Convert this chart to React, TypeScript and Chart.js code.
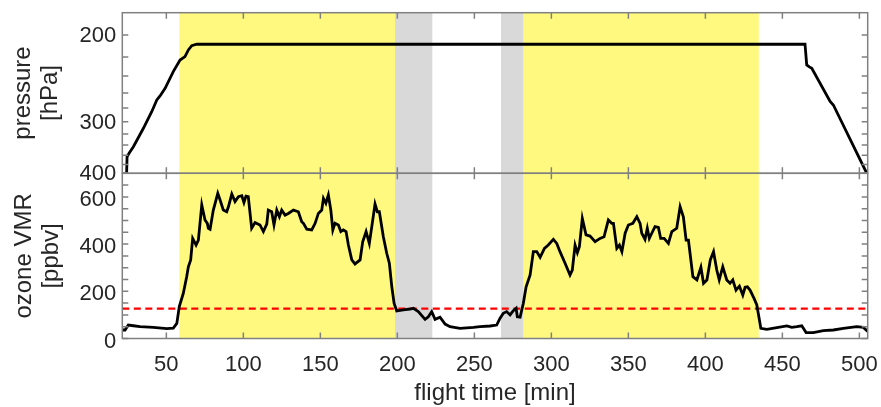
import React, { useEffect, useRef } from 'react';
import { Chart, registerables } from 'chart.js';

Chart.register(...registerables);

// ---------- data ----------
const X_MIN = 21.4;
const X_MAX = 505.4;
const xTicks = [50, 100, 150, 200, 250, 300, 350, 400, 450, 500];

const pressureTicks = [200, 220, 240, 260, 280, 300, 320, 340, 360, 380, 400];
const pressureLabels = [200, 300, 400];
const pressureTop = 182.4;
const pressureBottom = 400;

const ozoneTicks = [0, 50, 100, 150, 200, 250, 300, 350, 400, 450, 500, 550, 600, 650, 700];
const ozoneLabels = [0, 200, 400, 600];
const ozoneMax = 700;
const ozoneThreshold = 127;

const yellowBands: [number, number][] = [[58.4, 198.5], [281.8, 434.7]];
const grayBands: [number, number][] = [[198.5, 222.7], [267.3, 281.8]];

const pressureTime = [24.2, 24.5, 26.0, 28.6, 35.1, 40.5, 43.8, 45.9, 49.2, 54.5, 58.9, 62.1, 64.3, 66.5, 69.7,
  464.7, 465.8, 467.5, 469.1, 481.0, 483.1, 504.8, 505.4];
const pressureHPa = [400, 363, 354.9, 343.2, 310.6, 285.1, 268.9, 263.7, 254.1, 235.1, 223.0, 219.7, 213.3, 209.4, 208.1,
  208.1, 228.0, 230.0, 231.5, 271.0, 275.7, 400, 404];

const ozoneTime = [21.4, 23.2, 25.3, 28.6, 32.9, 41.6, 50.3, 54.5, 56.8, 58.4, 61.0, 63.2, 64.3, 65.8, 67.1, 69.3, 70.8,
  73.0, 75.1, 76.6, 77.3, 78.4, 80.5, 83.4, 84.9, 87.0, 89.2, 90.3, 92.5, 94.6, 96.8, 99.0, 100.4, 101.7, 103.2,
  105.4, 107.6, 110.8, 113.0, 115.2, 116.2, 118.4, 119.9, 121.7, 123.4, 124.9, 127.1, 129.2, 132.5, 135.7, 137.9,
  139.0, 141.2, 144.4, 146.6, 148.7, 150.9, 152.0, 153.6, 155.2, 156.8, 158.1, 159.5, 161.7, 163.3, 164.9, 166.7,
  168.2, 170.4, 172.5, 175.8, 177.5, 179.7, 181.8, 183.4, 185.5, 187.0, 188.3, 190.9, 193.1, 194.8, 196.4, 197.9,
  199.6, 203.9, 208.2, 210.4, 213.6, 218.0, 220.1, 222.3, 224.5, 227.7, 231.0, 234.2, 240.7, 249.4, 253.7, 260.2,
  264.5, 266.7, 268.8, 271.0, 273.2, 275.3, 277.1, 277.9, 279.7, 281.8, 283.6, 286.2, 288.3, 290.5, 292.7, 295.5,
  298.0, 301.3, 303.5, 305.6, 308.9, 312.1, 313.6, 315.4, 316.9, 318.2, 320.1, 322.5, 325.1, 328.4, 331.6, 334.2,
  337.0, 339.2, 340.3, 342.5, 344.2, 345.8, 347.9, 350.0, 352.9, 355.5, 357.6, 358.7, 360.8, 362.3, 363.6, 365.2,
  367.3, 369.5, 371.0, 373.2, 376.0, 378.2, 381.4, 383.6, 385.7, 387.5, 389.0, 391.9, 394.5, 397.1, 398.8, 401.0,
  403.2, 405.3, 407.4, 409.0, 411.3, 413.9, 416.0, 417.8, 419.9, 422.1, 424.3, 425.8, 427.3, 429.0, 431.6, 433.4,
  435.1, 436.0, 439.9, 446.4, 452.9, 456.1, 459.4, 462.6, 465.4, 470.1, 476.6, 483.1, 489.6, 498.3, 502.6, 505.4];
const ozoneVMR = [36, 36, 57, 54, 50, 47, 42, 44, 64, 135, 191, 262, 304, 333, 424, 396, 417,
  566, 502, 488, 467, 463, 544, 615, 587, 544, 537, 558, 612, 580, 601, 605, 576, 603, 601,
  467, 491, 481, 453, 485, 544, 537, 481, 544, 516, 544, 523, 530, 544, 537, 495,
  488, 463, 460, 488, 530, 544, 594, 573, 608, 544, 460, 488, 481, 453, 460, 453,
  396, 333, 316, 333, 410, 453, 403, 474, 570, 537, 537, 431, 361, 319, 219, 149,
  117, 121, 125, 128, 114, 81, 92, 114, 81, 90, 61, 50, 43, 47, 50, 53,
  57, 86, 107, 114, 100, 118, 128, 92, 90, 149, 219, 269, 368, 368, 344, 382,
  396, 420, 403, 368, 319, 269, 290, 396, 364, 389, 509, 439, 434, 410, 424, 431,
  502, 488, 488, 382, 396, 368, 446, 481, 488, 516, 488, 446, 420, 467, 424, 446,
  474, 471, 424, 424, 403, 453, 467, 558, 516, 417, 417, 262, 248, 302, 234, 248,
  333, 368, 290, 248, 304, 248, 234, 248, 205, 222, 184, 217, 219, 205, 170, 142,
  78, 43, 39, 46, 53, 47, 50, 54, 25, 25, 33, 36, 43, 50, 47, 30];

// ---------- helpers ----------
const FONT = '"Liberation Sans", Arial, Helvetica, sans-serif';
const TEXT = '#262626';
const FRAME = '#808080';
const LEFT_W = 122.3;
const RIGHT_PAD = 881 - 867.7;
const TOP_Y = 12.7;
const MID_Y = 173.3;
const BOT_Y = 338.5;
const H = 407;

const pv = (p: number) => 1 / Math.sqrt(p);

const noPad = (s: any) => {
  s.paddingTop = 0;
  s.paddingBottom = 0;
  s.paddingLeft = 0;
  s.paddingRight = 0;
};

const bandsPlugin = {
  id: 'bands',
  beforeDatasetsDraw(chart: any) {
    const { ctx, chartArea, scales } = chart;
    const x = scales.x;
    ctx.save();
    ctx.beginPath();
    ctx.rect(chartArea.left, chartArea.top, chartArea.right - chartArea.left, chartArea.bottom - chartArea.top);
    ctx.clip();
    const draw = (bands: [number, number][], color: string) => {
      ctx.fillStyle = color;
      for (const [a, b] of bands) {
        const x0 = x.getPixelForValue(a);
        const x1 = x.getPixelForValue(b);
        ctx.fillRect(x0, chartArea.top, x1 - x0, chartArea.bottom - chartArea.top);
      }
    };
    draw(yellowBands, '#FFF980');
    draw(grayBands, '#D9D9D9');
    ctx.restore();
  },
};

const makeFrame = (yTickValues: number[]) => ({
  id: 'frame',
  afterDatasetsDraw(chart: any) {
    const { ctx, chartArea, scales } = chart;
    const { left, right, top, bottom } = chartArea;
    const len = 6;
    ctx.save();
    ctx.strokeStyle = FRAME;
    ctx.lineWidth = 1.5;
    ctx.beginPath();
    for (const v of xTicks) {
      const px = scales.x.getPixelForValue(v);
      ctx.moveTo(px, top);
      ctx.lineTo(px, top + len);
      ctx.moveTo(px, bottom);
      ctx.lineTo(px, bottom - len);
    }
    for (const v of yTickValues) {
      const py = scales.y.getPixelForValue(v);
      ctx.moveTo(left, py);
      ctx.lineTo(left + len, py);
      ctx.moveTo(right, py);
      ctx.lineTo(right - len, py);
    }
    ctx.stroke();
    ctx.strokeRect(left, top, right - left, bottom - top);
    ctx.restore();
  },
});

function topConfig(): any {
  return {
    type: 'line',
    data: {
      datasets: [{
        data: pressureTime.map((t, i) => ({ x: t, y: pv(pressureHPa[i]) })),
        borderColor: '#000',
        borderWidth: 2.8,
        pointRadius: 0,
        tension: 0,
        fill: false,
      }],
    },
    options: {
      animation: false,
      responsive: false,
      maintainAspectRatio: false,
      events: [],
      layout: { padding: { left: 0, top: TOP_Y, right: RIGHT_PAD, bottom: H - MID_Y } },
      plugins: { legend: { display: false }, tooltip: { enabled: false } },
      scales: {
        x: { type: 'linear', min: X_MIN, max: X_MAX, display: false },
        y: {
          type: 'linear',
          min: pv(pressureBottom),
          max: pv(pressureTop),
          afterBuildTicks: (s: any) => { s.ticks = pressureTicks.map((p) => ({ value: pv(p) })); },
          afterFit: (s: any) => { s.width = LEFT_W; noPad(s); },
          grid: { display: false, drawTicks: false },
          border: { display: false },
          ticks: {
            autoSkip: false,
            padding: 6,
            labelOffset: 1,
            color: TEXT,
            font: { family: FONT, size: 22 },
            callback: (v: number) => {
              const p = Math.round(1 / (v * v));
              return pressureLabels.includes(p) ? String(p) : '';
            },
          },
          title: {
            display: true,
            text: ['pressure', '[hPa]'],
            color: TEXT,
            font: { family: FONT, size: 24, lineHeight: 1.125 },
            padding: { top: 9.5, bottom: 0 },
          },
        },
      },
    },
    plugins: [bandsPlugin, makeFrame(pressureTicks.map(pv))],
  };
}

function bottomConfig(): any {
  return {
    type: 'line',
    data: {
      datasets: [
        {
          data: ozoneTime.map((t, i) => ({ x: t, y: ozoneVMR[i] })),
          borderColor: '#000',
          borderWidth: 2.8,
          pointRadius: 0,
          tension: 0,
          fill: false,
        },
        {
          data: [{ x: X_MIN, y: ozoneThreshold }, { x: X_MAX, y: ozoneThreshold }],
          borderColor: '#FF0000',
          borderWidth: 2.2,
          borderDash: [7, 4.5],
          pointRadius: 0,
          fill: false,
        },
      ],
    },
    options: {
      animation: false,
      responsive: false,
      maintainAspectRatio: false,
      events: [],
      layout: { padding: { left: 0, top: MID_Y, right: RIGHT_PAD, bottom: 0 } },
      plugins: { legend: { display: false }, tooltip: { enabled: false } },
      scales: {
        x: {
          type: 'linear',
          min: X_MIN,
          max: X_MAX,
          afterBuildTicks: (s: any) => { s.ticks = xTicks.map((v) => ({ value: v })); },
          afterFit: (s: any) => { s.height = H - BOT_Y; noPad(s); },
          grid: { display: false, drawTicks: false },
          border: { display: false },
          ticks: {
            autoSkip: false,
            maxRotation: 0,
            minRotation: 0,
            padding: 13,
            color: TEXT,
            font: { family: FONT, size: 22 },
            callback: (v: number) => String(v),
          },
          title: {
            display: true,
            text: 'flight time [min]',
            color: TEXT,
            font: { family: FONT, size: 24, lineHeight: 28 / 24 },
            padding: { top: 0, bottom: 0 },
          },
        },
        y: {
          type: 'linear',
          min: 0,
          max: ozoneMax,
          afterBuildTicks: (s: any) => { s.ticks = ozoneTicks.map((v) => ({ value: v })); },
          afterFit: (s: any) => { s.width = LEFT_W; noPad(s); },
          grid: { display: false, drawTicks: false },
          border: { display: false },
          ticks: {
            autoSkip: false,
            padding: 6,
            labelOffset: 3,
            color: TEXT,
            font: { family: FONT, size: 22 },
            callback: (v: number) => (ozoneLabels.includes(v) ? String(v) : ''),
          },
          title: {
            display: true,
            text: ['ozone VMR', '[ppbv]'],
            color: TEXT,
            font: { family: FONT, size: 24, lineHeight: 1.125 },
            padding: { top: 11, bottom: 0 },
          },
        },
      },
    },
    plugins: [bandsPlugin, makeFrame(ozoneTicks)],
  };
}

export default function App() {
  const topRef = useRef<HTMLCanvasElement>(null);
  const botRef = useRef<HTMLCanvasElement>(null);

  useEffect(() => {
    const c1 = new Chart(topRef.current as HTMLCanvasElement, topConfig());
    const c2 = new Chart(botRef.current as HTMLCanvasElement, bottomConfig());
    return () => {
      c1.destroy();
      c2.destroy();
    };
  }, []);

  const canvasStyle: React.CSSProperties = { position: 'absolute', left: 0, top: 0, width: 881, height: 407 };
  return (
    <div style={{ position: 'absolute', left: 0, top: 0, width: 881, height: 407, background: '#fff' }}>
      <canvas ref={topRef} width={881} height={407} style={canvasStyle} />
      <canvas ref={botRef} width={881} height={407} style={canvasStyle} />
    </div>
  );
}
